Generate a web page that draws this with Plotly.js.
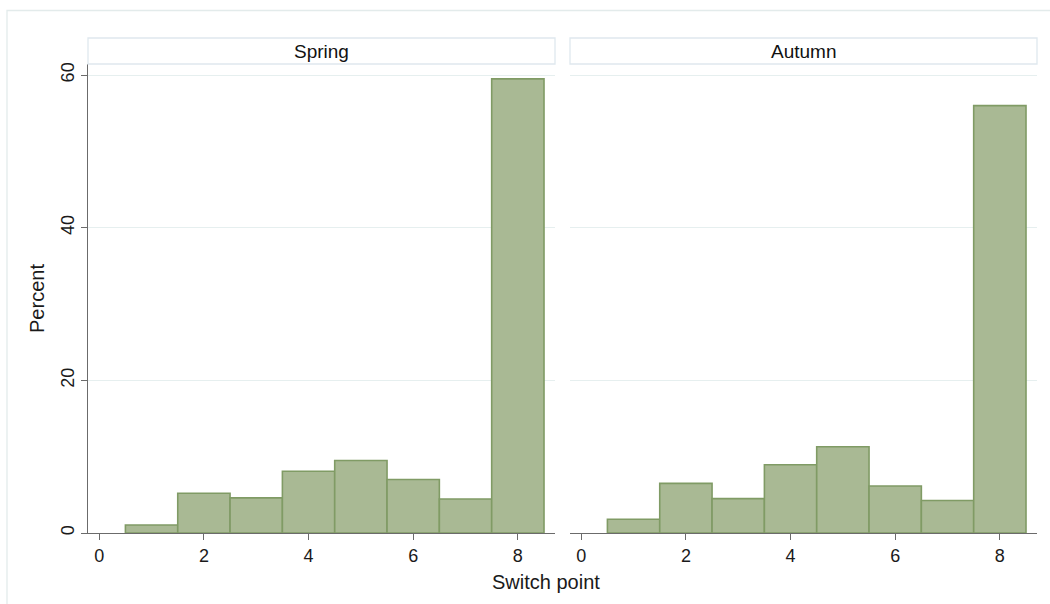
<!DOCTYPE html>
<html>
<head>
<meta charset="utf-8">
<script src="https://cdn.plot.ly/plotly-3.0.1.min.js"></script>
<style>html,body{margin:0;padding:0;background:#fff;}#chart{width:1050px;height:604px;}</style>
</head>
<body>
<div id="chart"></div>
<script>
// Data
const switchPoints = [1, 2, 3, 4, 5, 6, 7, 8];
const springPercent = [1.05, 5.2, 4.6, 8.1, 9.5, 7.0, 4.45, 59.5];
const autumnPercent = [1.8, 6.5, 4.5, 8.95, 11.3, 6.15, 4.25, 56.0];
const panelTitles = ["Spring", "Autumn"];
const yTicks = [0, 20, 40, 60];
const xTicks = [0, 2, 4, 6, 8];

const W = 1050, H = 604;
const px = v => v / W;
const py = v => 1 - v / H;

const fill = '#a9b994';
const edge = '#809b65';
const gridC = '#e6efef';
const axisC = '#6b6b6b';
const font = 'Liberation Sans, Arial, sans-serif';

const barStyle = {
  type: 'bar', width: 1,
  marker: {color: fill, line: {color: edge, width: 1.6}},
  hoverinfo: 'x+y', showlegend: false
};

const traces = [
  Object.assign({x: switchPoints, y: springPercent, xaxis: 'x', yaxis: 'y'}, barStyle),
  Object.assign({x: switchPoints, y: autumnPercent, xaxis: 'x2', yaxis: 'y2'}, barStyle)
];

const xRange = [-0.215, 8.71];
const yRange = [0, 61.45];

const xCommon = {
  range: xRange, tickvals: xTicks, ticks: 'outside', ticklen: 6, tickwidth: 1,
  tickcolor: axisC, showline: true, linecolor: axisC, linewidth: 1.3,
  showgrid: false, zeroline: false, tickfont: {family: font, size: 18, color: '#1a1a1a'}
};

const layout = {
  width: W, height: H,
  margin: {l: 0, r: 0, t: 0, b: 0},
  paper_bgcolor: '#fff', plot_bgcolor: '#fff',
  bargap: 0,
  font: {family: font, color: '#1a1a1a'},
  xaxis: Object.assign({domain: [px(88), px(555)], anchor: 'y'}, xCommon),
  xaxis2: Object.assign({domain: [px(570), px(1037)], anchor: 'y2'}, xCommon),
  yaxis: {
    domain: [py(533), py(64)], range: yRange, anchor: 'x',
    tickvals: yTicks, ticks: 'outside', ticklen: 6, tickcolor: axisC,
    showline: true, linecolor: axisC, linewidth: 1.3,
    showgrid: true, gridcolor: gridC, gridwidth: 1, zeroline: false,
    tickangle: -90, tickfont: {family: font, size: 18, color: '#1a1a1a'},
    title: {text: 'Percent', font: {family: font, size: 20, color: '#1a1a1a'}, standoff: 7}
  },
  yaxis2: {
    domain: [py(533), py(64)], range: yRange, anchor: 'x2',
    tickvals: yTicks, showticklabels: false, ticks: '',
    showline: false, showgrid: true, gridcolor: gridC, gridwidth: 1, zeroline: false
  },
  shapes: [
    {type: 'rect', xref: 'paper', yref: 'paper', x0: px(7), x1: px(1060), y0: py(620), y1: py(10.5),
     line: {color: '#e3ebeb', width: 1.3}, fillcolor: 'rgba(0,0,0,0)', layer: 'below'},
    {type: 'rect', xref: 'paper', yref: 'paper', x0: px(88), x1: px(555), y0: py(64), y1: py(38),
     line: {color: '#dfe8ee', width: 1.3}, fillcolor: '#fff'},
    {type: 'rect', xref: 'paper', yref: 'paper', x0: px(570), x1: px(1037), y0: py(64), y1: py(38),
     line: {color: '#dfe8ee', width: 1.3}, fillcolor: '#fff'}
  ],
  annotations: [
    {text: panelTitles[0], xref: 'paper', yref: 'paper', x: px((88 + 555) / 2), y: py(51),
     xanchor: 'center', yanchor: 'middle', showarrow: false, font: {family: font, size: 19, color: '#111'}},
    {text: panelTitles[1], xref: 'paper', yref: 'paper', x: px((570 + 1037) / 2), y: py(51),
     xanchor: 'center', yanchor: 'middle', showarrow: false, font: {family: font, size: 19, color: '#111'}},
    {text: 'Switch point', xref: 'paper', yref: 'paper', x: px(546), y: py(582),
     xanchor: 'center', yanchor: 'middle', showarrow: false, font: {family: font, size: 20, color: '#1a1a1a'}}
  ]
};

Plotly.newPlot('chart', traces, layout, {displayModeBar: false, staticPlot: true});
</script>
</body>
</html>
